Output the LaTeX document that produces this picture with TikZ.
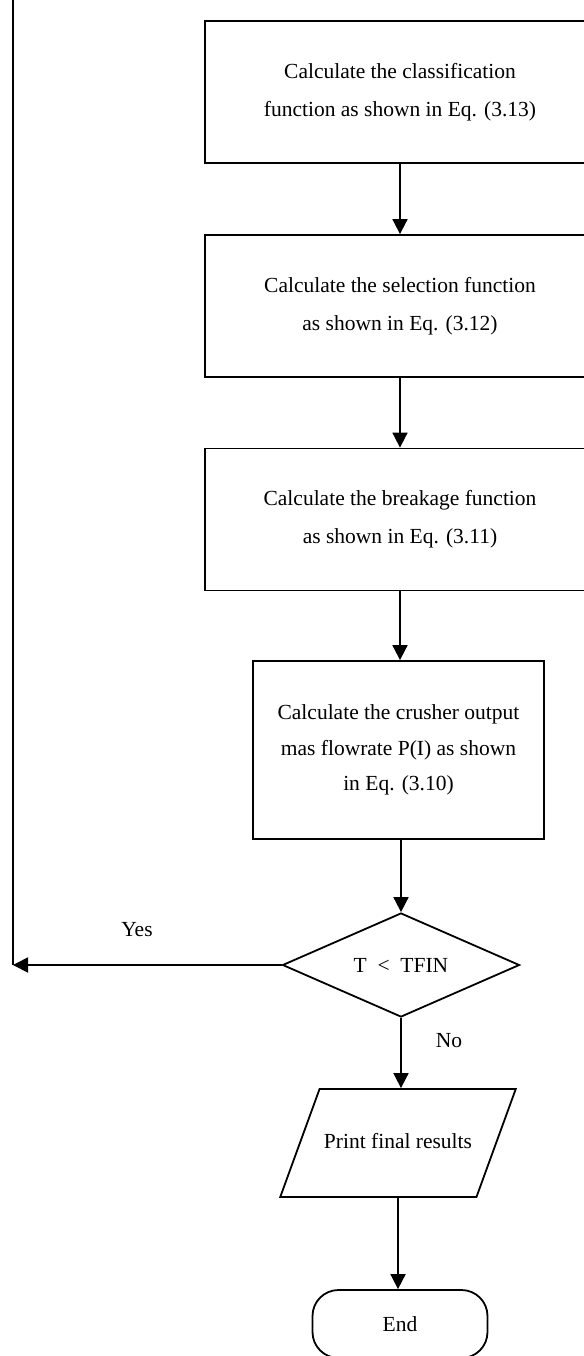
\documentclass[tikz,border=0pt]{standalone}
\usepackage{fontspec}
\setmainfont{Liberation Serif}
\usetikzlibrary{arrows.meta,calc,shapes.geometric}

\tikzset{
  proc/.style={draw, line width=0.9pt, align=center, inner sep=0pt,
    minimum width=195pt, minimum height=71pt,
    font=\fontsize{10.75}{19}\selectfont},
  decide/.style={draw, diamond, line width=0.9pt, inner sep=0pt, aspect=2.3,
    minimum width=118.5pt, minimum height=52pt, font=\fontsize{10.75}{13}\selectfont},
  io/.style={draw, trapezium, trapezium left angle=70, trapezium right angle=110,
    line width=0.9pt, inner xsep=2.2pt, inner ysep=22pt,
    text height=7.5pt, text depth=2.5pt,
    font=\fontsize{10.75}{13}\selectfont},
  term/.style={draw, rectangle, rounded corners=13pt, line width=0.9pt, inner sep=0pt,
    minimum width=87.5pt, minimum height=34pt, font=\fontsize{10.75}{13}\selectfont},
  lbl/.style={font=\fontsize{10.75}{13}\selectfont},
  flow/.style={line width=0.9pt, -{Triangle[length=7.5pt,width=7.5pt]}},
  plain/.style={line width=0.9pt}
}

\begin{document}
\begin{tikzpicture}[x=0.5pt,y=-0.5pt]
\useasboundingbox (0,0) rectangle (584,1356);
\clip (0,0) rectangle (584,1356);

\node[proc] (C1) at (400,92) {Calculate the classification\\function as shown in Eq. (3.13)};
\node[proc] (C2) at (400,306) {Calculate the selection function\\as shown in Eq. (3.12)};
\node[proc] (C3) at (400,519.5) {Calculate the breakage function\\as shown in Eq. (3.11)};
\node[proc, minimum width=145.5pt, minimum height=89pt,
  font=\fontsize{10.75}{17.75}\selectfont] (C4) at (398.5,750)
  {Calculate the crusher output\\mas flowrate P(I) as shown\\in Eq. (3.10)};
\node[decide] (D1) at (401,965) {T\enspace<\enspace TFIN};
\node[io] (P1) at (398,1143) {Print final results};
\node[term] (E1) at (400,1324) {End};

\coordinate (Ltop) at (13,0);
\coordinate (Lbot) at (Ltop |- D1.west);

\draw[flow] (C1.south) -- (C2.north);
\draw[flow] (C2.south) -- (C3.north);
\draw[flow] (C3.south) -- (C3.south |- C4.north);
\draw[flow] (D1.north |- C4.south) -- (D1.north);
\draw[flow] (D1.south) -- (D1.south |- P1.north);
\draw[flow] (P1.south) -- (P1.south |- E1.north);

% loop back
\draw[flow] (D1.west) -- (Lbot);
\draw[plain] (Lbot) -- (Ltop);

\node[lbl] (Yes) at (137,930) {Yes};
\node[lbl] (No) at (449,1041) {No};
\end{tikzpicture}
\end{document}
